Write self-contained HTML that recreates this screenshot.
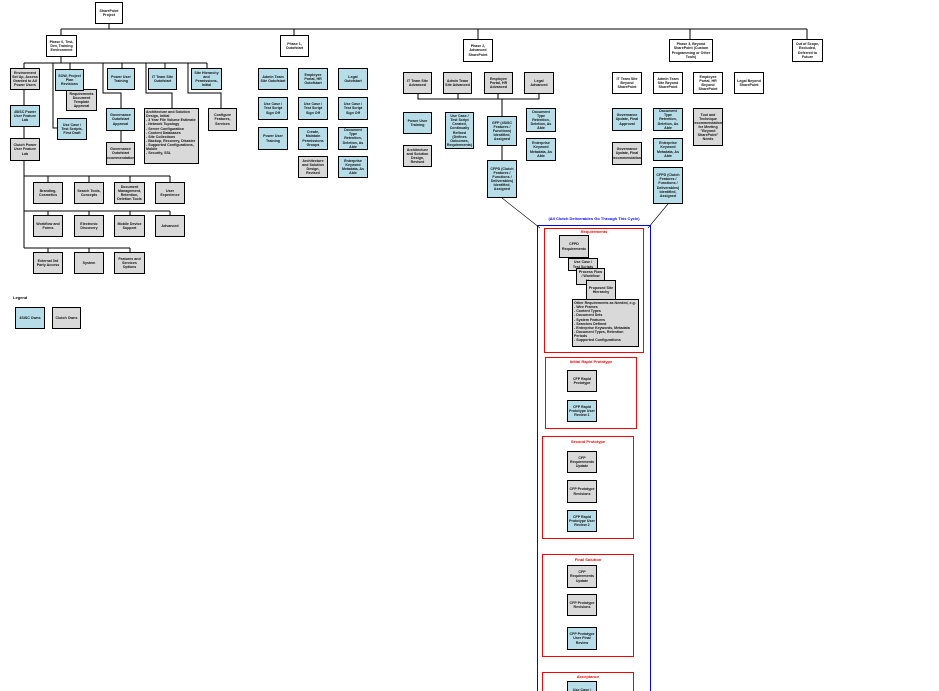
<!DOCTYPE html>
<html style="width:939px;height:691px;overflow:hidden"><head><meta charset="utf-8"><style>
html,body{overflow:hidden}
body{margin:0;width:939px;height:691px;background:#fff;position:relative;overflow:hidden;font-family:"Liberation Sans",sans-serif}
.b{position:absolute;box-sizing:border-box;border:1px solid #000;display:flex;align-items:center;justify-content:center;text-align:center;font-size:3.6px;font-weight:bold;line-height:1.15;color:#111;padding:1px;overflow:hidden}
.w{background:#fff}.g{background:#d9d9d9}.c{background:#b7dde8}
.l{text-align:left;justify-content:flex-start;align-items:flex-start}
.r{position:absolute;box-sizing:border-box;border:1px solid #f00}
.t{position:absolute;font-size:4px;font-weight:bold;color:#f00;text-align:center}
svg{position:absolute;left:0;top:0}
</style></head><body>
<svg width="939" height="691" stroke="#000" stroke-width="1" fill="none">
<path d="M109 24V29M61 29H807M61 29V35M294 29V35M478 29V39M690 29V39M807 29V39"/>
<path d="M61 57V63M24 63H207M24 63V68M24 90V105M24 127V138M24 161V248M53 63V128H57M70 63V69M103 63V93H121V108M122 63V68M121 131V142M146 63V93H172V108M165 63V68M188 63V93H221V108M207 63V68"/>
<path d="M24 176H170M48 176V182M89 176V182M130 176V182M170 176V182M24 211H170M48 211V215M89 211V215M130 211V215M170 211V215M24 248H130M48 248V252M89 248V252M130 248V252"/>
<path d="M418 94V99H539V94M458 94V99M498 94V99M502 99V116M502 146V160"/>
<path d="M502 198L540 228M668 204L648 228" stroke-width="0.6"/>
<rect x="537.5" y="225.5" width="113" height="480" stroke="#00f"/>
</svg>
<div class="b w" style="left:95px;top:2px;width:28px;height:22px">SharePoint Project</div>
<div class="b w" style="left:46px;top:35px;width:31px;height:22px">Phase 0, Test, Dev, Training Environment</div>
<div class="b w" style="left:280px;top:35px;width:29px;height:22px">Phase 1, Outofstart</div>
<div class="b w" style="left:463px;top:39px;width:30px;height:23px">Phase 2, Advanced SharePoint</div>
<div class="b w" style="left:669px;top:39px;width:44px;height:23px">Phase 3, Beyond SharePoint (Custom Programming or Other Tools)</div>
<div class="b w" style="left:792px;top:39px;width:31px;height:23px">Out of Scope, Excluded, Deferred to Future</div>

<div class="b g" style="left:10px;top:68px;width:30px;height:22px">Environment Set Up, Access Granted to All Power Users</div>
<div class="b c" style="left:10px;top:105px;width:30px;height:22px">4SiSC Power User Feature Lab</div>
<div class="b g" style="left:10px;top:138px;width:30px;height:23px">Clutch Power User Feature Lab</div>
<div class="b g" style="left:66px;top:89px;width:31px;height:22px">Requirements Document Template Approval</div>
<div class="b c" style="left:55px;top:69px;width:29px;height:22px">SOW, Project Plan Revisions</div>
<div class="b c" style="left:57px;top:118px;width:30px;height:22px">Use Case / Test Scripts, First Draft</div>
<div class="b c" style="left:107px;top:68px;width:28px;height:22px">Power User Training</div>
<div class="b c" style="left:106px;top:108px;width:29px;height:23px">Governance Outofstart Approval</div>
<div class="b g" style="left:106px;top:142px;width:29px;height:23px">Governance Outofstart Recommendations</div>
<div class="b c" style="left:148px;top:68px;width:29px;height:22px">IT Team Site Outofstart</div>
<div class="b g l" style="left:144px;top:108px;width:55px;height:56px">Architecture and Solution Design, Initial<br>- 3 Year File Volume Estimate<br>- Network Topology<br>- Server Configuration<br>- Content Databases<br>- Site Collections<br>- Backup, Recovery, Disaster<br>- Supported Configurations, Mobile<br>- Security, SSL</div>
<div class="b c" style="left:191px;top:68px;width:31px;height:22px">Site Hierarchy and Permissions, Initial</div>
<div class="b g" style="left:208px;top:108px;width:29px;height:23px">Configure Features, Services</div>

<div class="b g" style="left:33px;top:182px;width:30px;height:22px">Branding, Cosmetics</div>
<div class="b g" style="left:74px;top:182px;width:30px;height:22px">Search Tools, Concepts</div>
<div class="b g" style="left:114px;top:182px;width:31px;height:22px">Document Management, Retention, Deletion Tools</div>
<div class="b g" style="left:155px;top:182px;width:30px;height:22px">User Experience</div>
<div class="b g" style="left:33px;top:215px;width:30px;height:22px">Workflow and Forms</div>
<div class="b g" style="left:74px;top:215px;width:30px;height:22px">Electronic Discovery</div>
<div class="b g" style="left:114px;top:215px;width:31px;height:22px">Mobile Device Support</div>
<div class="b g" style="left:155px;top:215px;width:30px;height:22px">Advanced</div>
<div class="b g" style="left:33px;top:252px;width:30px;height:22px">External 3rd Party Access</div>
<div class="b g" style="left:74px;top:252px;width:30px;height:22px">System</div>
<div class="b g" style="left:114px;top:252px;width:31px;height:22px">Features and Services Options</div>
<div style="position:absolute;left:13px;top:295px;font-size:4px;font-weight:bold">Legend</div>
<div class="b c" style="left:15px;top:307px;width:30px;height:22px">4SiSC Owns</div>
<div class="b g" style="left:52px;top:307px;width:29px;height:22px">Clutch Owns</div>

<div class="b c" style="left:258px;top:68px;width:30px;height:22px">Admin Team Site Outofstart</div>
<div class="b c" style="left:258px;top:97px;width:30px;height:23px">Use Case / Test Script Sign Off</div>
<div class="b c" style="left:258px;top:127px;width:30px;height:23px">Power User Training</div>
<div class="b c" style="left:298px;top:68px;width:30px;height:22px">Employee Portal, HR Outofstart</div>
<div class="b c" style="left:298px;top:97px;width:30px;height:23px">Use Case / Test Script Sign Off</div>
<div class="b c" style="left:298px;top:127px;width:30px;height:23px">Create, Maintain Permissions Groups</div>
<div class="b g" style="left:298px;top:156px;width:30px;height:22px">Architecture and Solution Design, Revised</div>
<div class="b c" style="left:338px;top:68px;width:30px;height:22px">Legal Outofstart</div>
<div class="b c" style="left:338px;top:97px;width:30px;height:23px">Use Case / Test Script Sign Off</div>
<div class="b c" style="left:338px;top:127px;width:30px;height:23px">Document Type Retention, Deletion, As Able</div>
<div class="b c" style="left:338px;top:156px;width:30px;height:22px">Enterprise Keyword Metadata, As Able</div>

<div class="b g" style="left:403px;top:72px;width:29px;height:22px">IT Team Site Advanced</div>
<div class="b g" style="left:443px;top:72px;width:29px;height:22px">Admin Team Site Advanced</div>
<div class="b g" style="left:484px;top:72px;width:29px;height:22px">Employee Portal, HR Advanced</div>
<div class="b g" style="left:524px;top:72px;width:30px;height:22px">Legal Advanced</div>
<div class="b c" style="left:403px;top:112px;width:29px;height:22px">Power User Training</div>
<div class="b g" style="left:403px;top:145px;width:29px;height:22px">Architecture and Solution Design, Revised</div>
<div class="b c" style="left:445px;top:112px;width:29px;height:37px">Use Case / Test Script Created, Continually Refined (Defines Outcomes, Requirements)</div>
<div class="b c" style="left:487px;top:116px;width:30px;height:30px">GFP (4SiSC Features / Functions) Identified, Assigned</div>
<div class="b c" style="left:487px;top:160px;width:30px;height:38px">CFPD (Clutch Features / Functions / Deliverables) Identified, Assigned</div>
<div class="b c" style="left:526px;top:108px;width:30px;height:24px">Document Type Retention, Deletion, As Able</div>
<div class="b c" style="left:526px;top:138px;width:30px;height:23px">Enterprise Keyword Metadata, As Able</div>

<div class="b w" style="left:612px;top:72px;width:30px;height:22px">IT Team Site Beyond SharePoint</div>
<div class="b w" style="left:653px;top:72px;width:30px;height:22px">Admin Team Site Beyond SharePoint</div>
<div class="b w" style="left:693px;top:72px;width:30px;height:22px">Employee Portal, HR Beyond SharePoint</div>
<div class="b w" style="left:734px;top:72px;width:30px;height:22px">Legal Beyond SharePoint</div>
<div class="b c" style="left:612px;top:108px;width:30px;height:23px">Governance Update, Final Approval</div>
<div class="b g" style="left:612px;top:142px;width:30px;height:23px">Governance Update, Final Recommendations</div>
<div class="b c" style="left:653px;top:108px;width:30px;height:23px">Document Type Retention, Deletion, As Able</div>
<div class="b c" style="left:653px;top:138px;width:30px;height:23px">Enterprise Keyword Metadata, As Able</div>
<div class="b c" style="left:653px;top:167px;width:30px;height:37px">CFPD (Clutch Features / Functions / Deliverables) Identified, Assigned</div>
<div class="b g" style="left:693px;top:108px;width:30px;height:38px">Tool and Technique Recommendations for Meeting "Beyond SharePoint" Needs</div>

<div class="t" style="left:537px;top:216px;width:114px;color:#00f">(All Clutch Deliverables Go Through This Cycle)</div>
<div class="r" style="left:544px;top:228px;width:100px;height:125px"></div>
<div class="t" style="left:544px;top:229px;width:100px">Requirements</div>
<div class="b g" style="left:559px;top:235px;width:30px;height:23px">CFPD Requirements</div>
<div class="b g" style="left:568px;top:258px;width:30px;height:13px">Use Case / Test Scripts</div>
<div class="b g" style="left:576px;top:268px;width:29px;height:17px">Process Flow / Workflow Maps</div>
<div class="b g" style="left:586px;top:280px;width:30px;height:20px">Proposed Site Hierarchy</div>
<div class="b g l" style="left:572px;top:299px;width:67px;height:48px">Other Requirements as Needed, e.g.<br>- Wire Frames<br>- Content Types<br>- Document Sets<br>- System Features<br>- Searches Defined<br>- Enterprise Keywords, Metadata<br>- Document Types, Retention Periods<br>- Supported Configurations</div>

<div class="r" style="left:545px;top:357px;width:92px;height:72px"></div>
<div class="t" style="left:545px;top:359px;width:92px">Initial Rapid Prototype</div>
<div class="b g" style="left:567px;top:370px;width:30px;height:22px">CFP Rapid Prototype</div>
<div class="b c" style="left:567px;top:400px;width:30px;height:22px">CFP Rapid Prototype User Review 1</div>

<div class="r" style="left:542px;top:436px;width:92px;height:103px"></div>
<div class="t" style="left:542px;top:439px;width:92px">Second Prototype</div>
<div class="b g" style="left:567px;top:451px;width:30px;height:22px">CFP Requirements Update</div>
<div class="b g" style="left:567px;top:480px;width:30px;height:23px">CFP Prototype Revisions</div>
<div class="b c" style="left:567px;top:510px;width:30px;height:22px">CFP Rapid Prototype User Review 2</div>

<div class="r" style="left:542px;top:554px;width:92px;height:103px"></div>
<div class="t" style="left:542px;top:557px;width:92px">Final Solution</div>
<div class="b g" style="left:567px;top:565px;width:30px;height:23px">CFP Requirements Update</div>
<div class="b g" style="left:567px;top:594px;width:30px;height:22px">CFP Prototype Revisions</div>
<div class="b c" style="left:567px;top:627px;width:30px;height:23px">CFP Prototype User Final Review</div>

<div class="r" style="left:542px;top:672px;width:92px;height:40px"></div>
<div class="t" style="left:542px;top:674px;width:92px">Acceptance</div>
<div class="b c" style="left:567px;top:681px;width:30px;height:22px">Use Case / Test</div>
</body></html>
